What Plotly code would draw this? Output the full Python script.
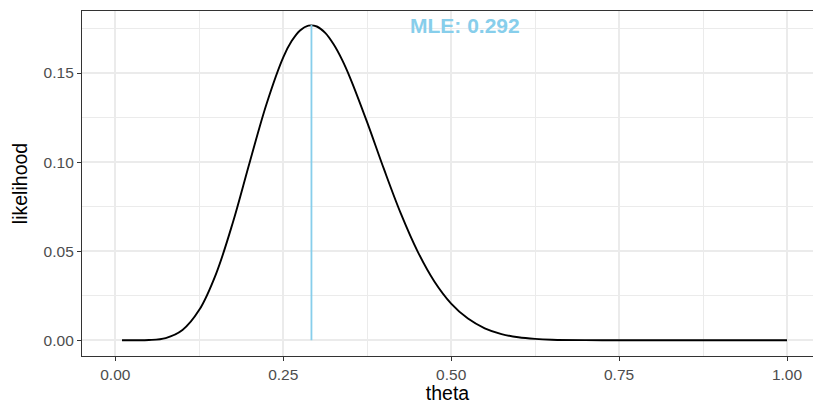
import plotly.graph_objects as go

theta = [0.01, 0.025, 0.05, 0.075, 0.1, 0.125, 0.15, 0.175, 0.2, 0.225, 0.25, 0.2625,
         0.275, 0.2875, 0.3, 0.3125, 0.325, 0.3375, 0.35, 0.375, 0.4, 0.425, 0.45, 0.475,
         0.5, 0.525, 0.55, 0.575, 0.6, 0.625, 0.65, 0.7, 0.75, 0.8, 0.9, 1.0]
likelihood = [0.0, 0.0000014, 0.000113, 0.00123, 0.00577, 0.01705, 0.0373, 0.0661, 0.0998,
              0.1325, 0.1588, 0.1679, 0.1739, 0.1766, 0.1761, 0.1725, 0.1661, 0.1575,
              0.1469, 0.1223, 0.0960, 0.0712, 0.0499, 0.0330, 0.0206, 0.01214, 0.0067,
              0.00346, 0.00166, 0.00074, 0.0003, 0.000037, 0.0000027, 0.0, 0.0, 0.0]
mle = 0.292
mle_lik = 0.1769
label = "MLE: 0.292"
x_ticks = [0.0, 0.25, 0.5, 0.75, 1.0]
x_ticklabels = ["0.00", "0.25", "0.50", "0.75", "1.00"]
y_ticks = [0.0, 0.05, 0.10, 0.15]
y_ticklabels = ["0.00", "0.05", "0.10", "0.15"]

fig = go.Figure()
fig.add_trace(go.Scatter(x=theta, y=likelihood, mode="lines",
                         line=dict(color="black", width=1.9, shape="spline", smoothing=1.0),
                         hoverinfo="skip", showlegend=False))
fig.add_trace(go.Scatter(x=[mle, mle], y=[0, mle_lik], mode="lines",
                         line=dict(color="#87CEEB", width=1.8),
                         hoverinfo="skip", showlegend=False))
fig.add_annotation(x=0.52, y=0.1764, text="<b>" + label + "</b>", showarrow=False,
                   font=dict(family="Liberation Sans, Arial", size=21, color="#87CEEB"),
                   xanchor="center", yanchor="middle")

font_fam = "Liberation Sans, Arial, sans-serif"
fig.update_layout(
    width=813, height=404,
    margin=dict(l=82, r=0, t=11, b=48),
    paper_bgcolor="white", plot_bgcolor="white",
    font=dict(family=font_fam),
    xaxis=dict(range=[-0.0496, 1.0387], tickvals=x_ticks, ticktext=x_ticklabels,
               automargin=False,
               showgrid=True, gridcolor="#EBEBEB", gridwidth=2,
               minor=dict(dtick=0.125, tick0=0.125, showgrid=True, gridcolor="#EBEBEB", gridwidth=1),
               zeroline=False, showline=True, linecolor="#333333", linewidth=1.3, mirror=True,
               ticks="outside", ticklen=4, tickcolor="#333333", tickwidth=1.2,
               tickfont=dict(size=15.5, color="#4D4D4D"),
               title=dict(text="theta", font=dict(size=19.5, color="black"), standoff=8)),
    yaxis=dict(range=[-0.00885, 0.1848], tickvals=y_ticks, ticktext=y_ticklabels,
               automargin=False,
               showgrid=True, gridcolor="#EBEBEB", gridwidth=2,
               minor=dict(dtick=0.025, tick0=0.025, showgrid=True, gridcolor="#EBEBEB", gridwidth=1),
               zeroline=False, showline=True, linecolor="#333333", linewidth=1.3, mirror=False,
               ticks="outside", ticklen=4, tickcolor="#333333", tickwidth=1.2,
               tickfont=dict(size=15.5, color="#4D4D4D"),
               title=dict(text="likelihood", font=dict(size=19.5, color="black"), standoff=10)),
)
fig.write_html("out.html", config={"displayModeBar": False})
with open("out.html", "r", encoding="utf-8") as f:
    html = f.read()
html = html.replace("<body>", '<body style="margin:0;padding:0;overflow:hidden">', 1)
with open("out.html", "w", encoding="utf-8") as f:
    f.write(html)
